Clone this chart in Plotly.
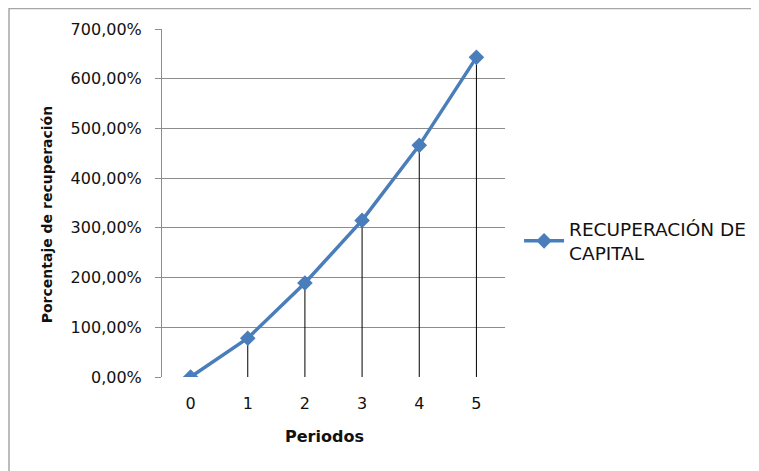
import plotly.graph_objects as go

periodos = [0, 1, 2, 3, 4, 5]
recuperacion = [0.0, 78.0, 189.0, 315.0, 466.0, 643.0]
y_ticks = [0, 100, 200, 300, 400, 500, 600, 700]
y_tick_labels = ["0,00%", "100,00%", "200,00%", "300,00%", "400,00%", "500,00%", "600,00%", "700,00%"]
serie_nombre = "RECUPERACIÓN DE<br>CAPITAL"

FONT = "DejaVu Sans"
BLUE = "#4A7EBB"
TXT = "#111111"

# drop lines built from data
dx, dy = [], []
for x, v in zip(periodos, recuperacion):
    dx += [x, x, None]
    dy += [0, v, None]

fig = go.Figure()
fig.add_trace(go.Scatter(x=dx, y=dy, mode="lines", line=dict(color="black", width=1),
                         showlegend=False, hoverinfo="skip"))
fig.add_trace(go.Scatter(x=periodos, y=recuperacion, mode="lines+markers", name=serie_nombre,
                         line=dict(color=BLUE, width=3.5),
                         marker=dict(symbol="diamond", size=12, color=BLUE)))

fig.update_layout(
    width=759, height=471,
    margin=dict(l=154, r=262, t=21, b=102),
    paper_bgcolor="white", plot_bgcolor="white",
    font=dict(family=FONT, size=16, color=TXT),
    showlegend=True,
    legend=dict(x=1.041, y=0.39, xanchor="left", yanchor="middle",
                font=dict(family=FONT, size=18.5, color=TXT),
                bgcolor="rgba(0,0,0,0)", itemwidth=40, tracegroupgap=0),
    xaxis=dict(range=[-0.5, 5.5], tickmode="array", tickvals=periodos,
               ticktext=[str(p) for p in periodos], showgrid=False, zeroline=False,
               showline=False, ticks="", ticklabelstandoff=15,
               tickfont=dict(family=FONT, size=16, color=TXT)),
    yaxis=dict(range=[0, 700], tickmode="array", tickvals=y_ticks, ticktext=y_tick_labels,
               showgrid=True, gridcolor="#8c8c8c", gridwidth=1, zeroline=False,
               showline=True, linecolor="#8c8c8c", linewidth=1,
               ticks="outside", ticklen=6, tickcolor="#8c8c8c", ticklabelstandoff=10,
               tickfont=dict(family=FONT, size=16, color=TXT)),
    annotations=[
        dict(text="<b>Periodos</b>", xref="paper", yref="paper", x=0.475, y=-0.172,
             xanchor="center", yanchor="middle", showarrow=False,
             font=dict(family=FONT, size=16, color=TXT)),
        dict(text="<b>Porcentaje de recuperación</b>", xref="paper", yref="paper",
             x=-0.333, y=0.467, xanchor="center", yanchor="middle", textangle=-90,
             showarrow=False, font=dict(family=FONT, size=14, color=TXT)),
    ],
    shapes=[
        dict(type="rect", xref="paper", yref="paper", x0=-0.446, x1=1.78, y0=-0.32, y1=1.059,
             line=dict(color="#a6a6a6", width=1.5), fillcolor="rgba(0,0,0,0)", layer="below"),
    ],
)

fig.write_html("out.html")
